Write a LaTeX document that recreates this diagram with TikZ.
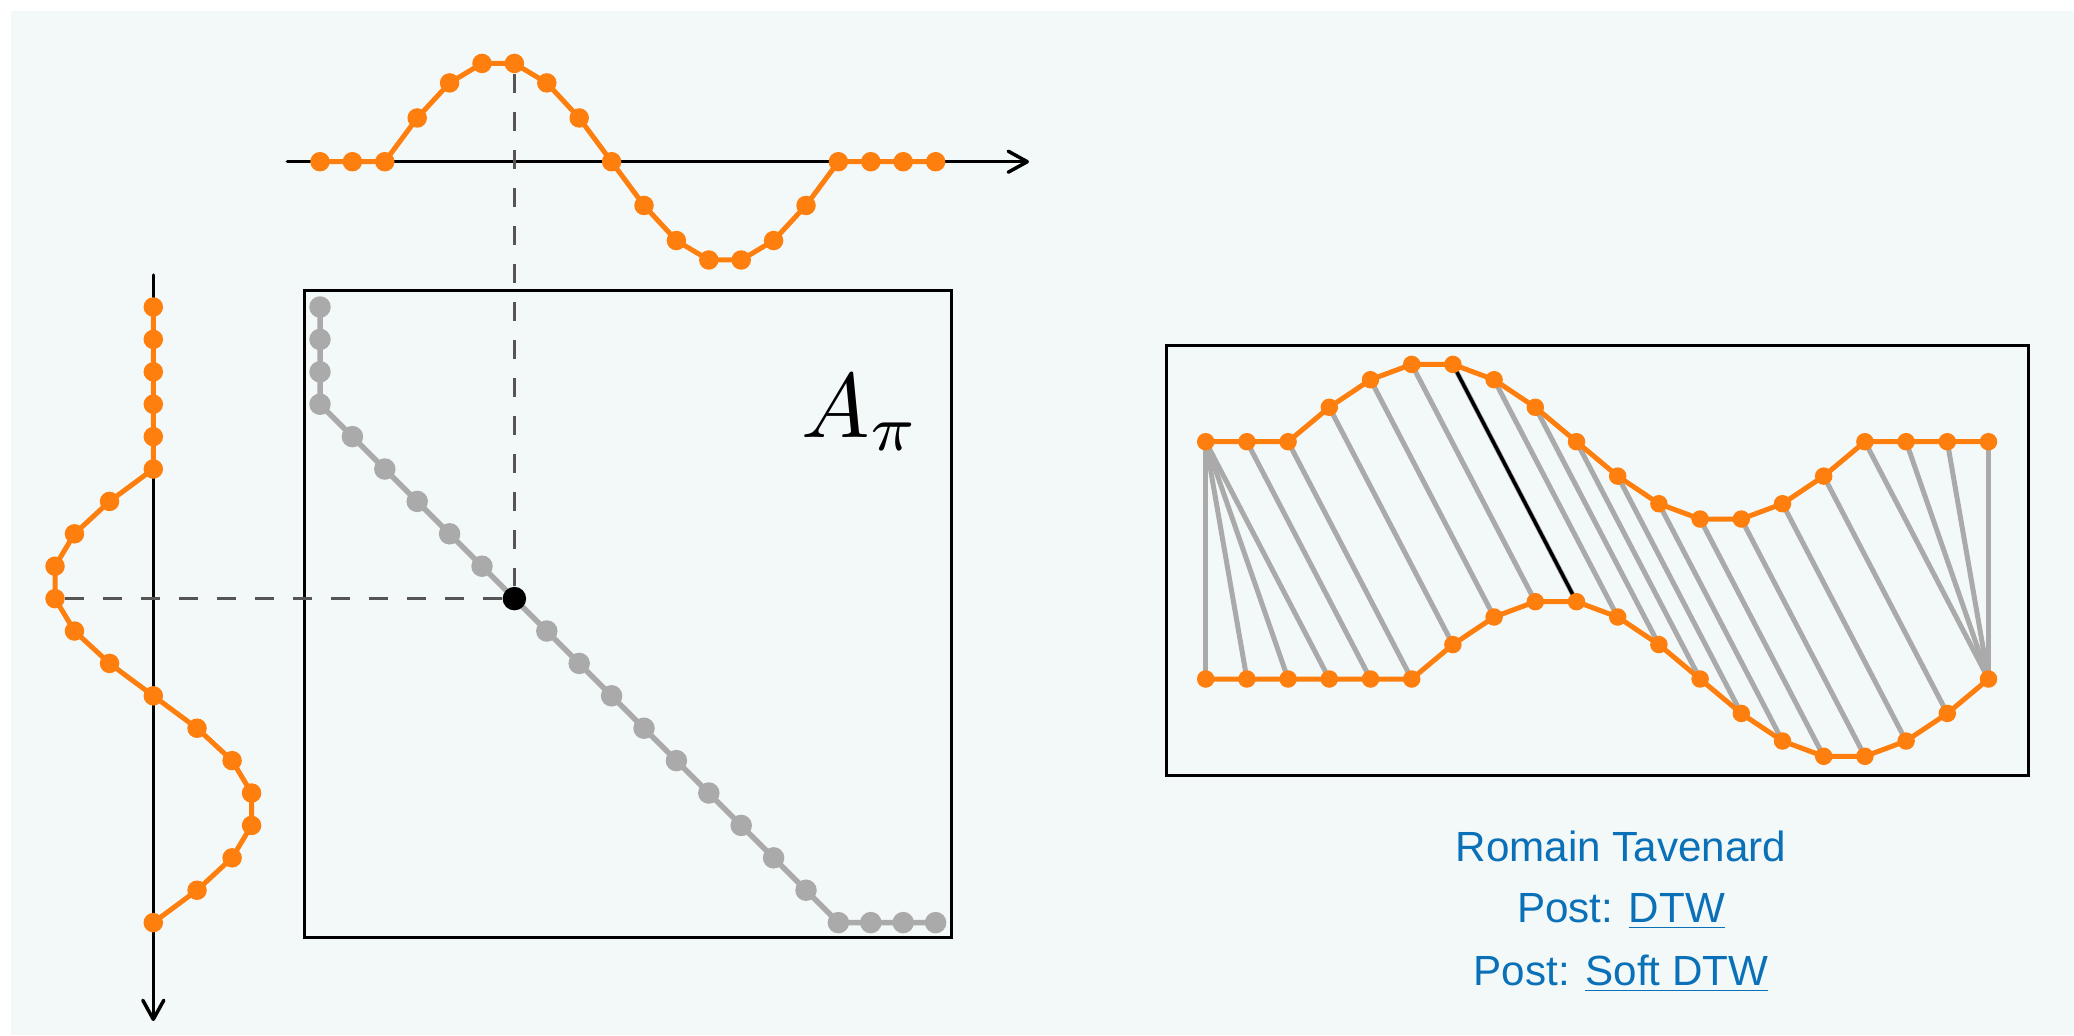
\documentclass[tikz,border=0pt]{standalone}
\usepackage{fontspec}
\newfontfamily\credfont{Liberation Sans}
\usetikzlibrary{arrows.meta}
\definecolor{cBg}  {RGB}{243, 249, 249}
\definecolor{cSer} {RGB}{255, 127,  14}
\definecolor{cPath}{RGB}{170, 170, 170}
\definecolor{cDash}{RGB}{ 85,  85,  85}
\definecolor{cLink}{RGB}{ 10, 112, 184}
\tikzset{
  ax/.style    = {line width=0.35mm, line cap=round,
                  -{Straight Barb[length=1.9mm, width=2.1mm, round]}},
  ser/.style   = {cSer, line width=0.5mm, line join=round},
  dotS/.style  = {circle, fill=cSer, inner sep=0pt, minimum size=1.95mm},
  dotR/.style  = {circle, fill=cSer, inner sep=0pt, minimum size=1.75mm},
  pth/.style   = {cPath, line width=0.55mm},
  dotP/.style  = {circle, fill=cPath, inner sep=0pt, minimum size=2.15mm},
  dotK/.style  = {circle, fill=black, inner sep=0pt, minimum size=2.35mm},
  dsh/.style   = {cDash, line width=0.3mm, dash pattern=on 1.9mm off 1.9mm},
  lnk/.style   = {cPath, line width=0.5mm},
  frm/.style   = {line width=0.3mm},
  cred/.style  = {font=\credfont\fontsize{12}{14}\selectfont, text=cLink,
                  inner sep=0pt, anchor=base},
}
% the two series and the warping path (index pairs)
\def\serX{0,0,0,0.434,0.782,0.975,0.975,0.782,0.434,0,-0.434,-0.782,-0.975,-0.975,-0.782,-0.434,0,0,0,0}
\def\serY{0,0,0,0,0,0,0.434,0.782,0.975,0.975,0.782,0.434,0,-0.434,-0.782,-0.975,-0.975,-0.782,-0.434,0}
\def\dtwpath{0/0,0/1,0/2,0/3,1/4,2/5,3/6,4/7,5/8,6/9,7/10,8/11,9/12,10/13,11/14,12/15,13/16,14/17,15/18,16/19,17/19,18/19,19/19}

\begin{document}
\begin{tikzpicture}

\useasboundingbox (0,0) rectangle (20.74,-10.35);
\fill[white] (0,0) rectangle (20.74,-10.35);
\fill[cBg] (0.11,-0.11) rectangle (20.74,-10.35);

%% --- top series -------------------------------------------------
\coordinate (xs) at (2.874,-1.617);
\coordinate (xe) at (10.29,-1.617);
\draw[ax] (xs) -- (xe);
\foreach \v [count=\j from 0] in \serX
  \coordinate (x\j) at ({3.20+0.324*\j}, {-1.617+1.008*\v});
\draw[ser] (x0) \foreach \j in {1,...,19}{ -- (x\j)};
\foreach \j in {0,...,19}
  \node[dotS] (xd\j) at (x\j) {};

%% --- left series ------------------------------------------------
\coordinate (ys) at (1.533,-2.75);
\coordinate (ye) at (1.533,-10.21);
\draw[ax] (ys) -- (ye);
\foreach \v [count=\i from 0] in \serY
  \coordinate (y\i) at ({1.533-1.008*\v}, {-3.07-0.324*\i});
\draw[ser] (y0) \foreach \i in {1,...,19}{ -- (y\i)};
\foreach \i in {0,...,19}
  \node[dotS] (yd\i) at (y\i) {};

%% --- alignment matrix -------------------------------------------
\draw[frm] (3.04,-2.90) rectangle (9.515,-9.375);
\node[scale=2.6, anchor=base west, inner sep=0pt] (api) at (8.0,-4.37) {$A_\pi$};
\foreach \a/\b [count=\k from 0] in \dtwpath
  \coordinate (m\k) at ({3.20+0.324*\a}, {-3.07-0.324*\b});
\draw[pth] (m0) \foreach \k in {1,...,22}{ -- (m\k)};
\foreach \k in {0,...,22}
  \node[dotP] (md\k) at (m\k) {};
\node[dotK] (mk) at (m9) {};

\draw[dsh] (xd6) -- (mk);
\draw[dsh] (yd9) -- (mk);

%% --- matched series ---------------------------------------------
\draw[frm] (11.66,-3.45) rectangle (20.28,-7.75);
\foreach \v [count=\j from 0] in \serX
  \coordinate (u\j) at ({12.057+0.412*\j}, {-4.417+0.793*\v});
\foreach \v [count=\i from 0] in \serY
  \coordinate (l\i) at ({12.057+0.412*\i}, {-6.79+0.793*\v});
\foreach \a/\b in \dtwpath
  \draw[lnk] (u\a) -- (l\b);
\draw[line width=0.35mm] (u6) -- (l9);
\draw[ser] (u0) \foreach \j in {1,...,19}{ -- (u\j)};
\draw[ser] (l0) \foreach \i in {1,...,19}{ -- (l\i)};
\foreach \j in {0,...,19}{
  \node[dotR] (ud\j) at (u\j) {};
  \node[dotR] (ld\j) at (l\j) {};
}

%% --- credits ----------------------------------------------------
\node[cred] (auth) at (16.21,-8.61)  {Romain Tavenard};
\node[cred] (pst1) at (16.21,-9.227) {Post: \underline{DTW}};
\node[cred] (pst2) at (16.21,-9.85)  {Post: \underline{Soft DTW}};

\end{tikzpicture}
\end{document}
